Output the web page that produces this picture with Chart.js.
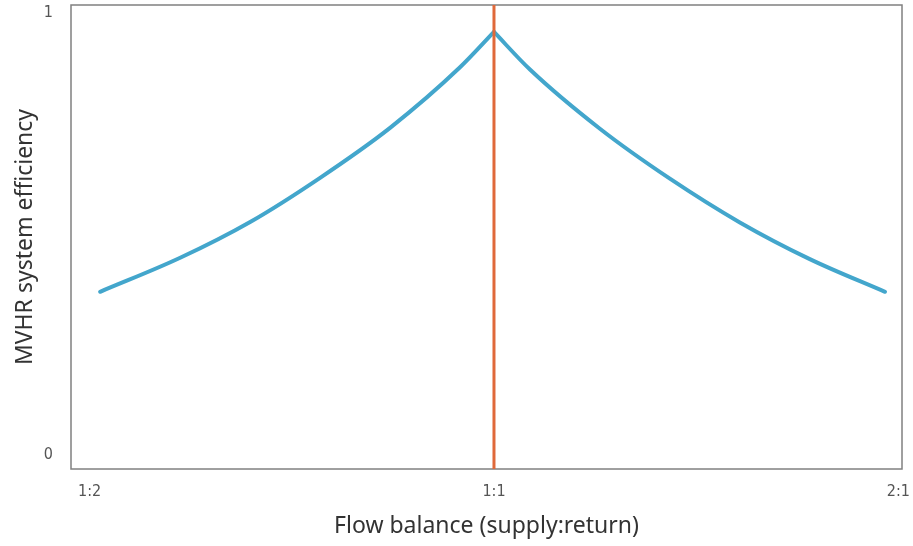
<!DOCTYPE html>
<html>
<head>
<meta charset="utf-8">
<script src="https://cdn.jsdelivr.net/npm/chart.js@4"></script>
<style>
  body { margin: 0; background: #fff; }
</style>
</head>
<body>
<canvas id="myChart" width="913" height="546"></canvas>
<script>
// flow balance as log2(supply/return): -1 = 1:2, 0 = 1:1, 1 = 2:1
const balance = [-0.974, -0.776, -0.603, -0.430, -0.257, -0.084, 0, 0.089, 0.262, 0.435, 0.608, 0.781, 0.967];
const efficiency = [0.369, 0.446, 0.527, 0.627, 0.740, 0.877, 0.957, 0.872, 0.738, 0.625, 0.526, 0.443, 0.369];
const peakIndex = 6;

const xTickValues = [-1, 0, 1];
const xTickLabels = ['1:2', '1:1', '2:1'];
const yTickValues = [0, 1];
const yTickLabels = ['0', '1'];

const balancedLine = [0];

const yMin = -0.032, yMax = 1.018;

const toPoints = (xs, ys) => xs.map((x, i) => ({ x: x, y: ys[i] }));
const leftBranch = toPoints(balance.slice(0, peakIndex + 1), efficiency.slice(0, peakIndex + 1));
const rightBranch = toPoints(balance.slice(peakIndex), efficiency.slice(peakIndex));

const blue = '#43a6cc';
const orange = '#e0693a';

const tickFont = { family: "'Liberation Sans Narrow', 'DejaVu Sans Condensed', sans-serif", size: 16 };
const titleFont = { family: "'Noto Sans', sans-serif", size: 23 };

const frame = {
    id: 'frame',
    beforeDatasetsDraw(chart) {
        const a = chart.chartArea;
        const c = chart.ctx;
        c.save();
        c.strokeStyle = '#808080';
        c.lineWidth = 1.5;
        c.strokeRect(a.left, a.top, a.right - a.left, a.bottom - a.top);
        c.restore();
    }
};

// keep the plot box fixed, tick label overhang shouldn't move it
const noOverhang = (scale) => {
    scale.paddingTop = 0;
    scale.paddingBottom = 0;
    scale.paddingLeft = 0;
    scale.paddingRight = 0;
};

const ctx = document.getElementById('myChart').getContext('2d');

const myChart = new Chart(ctx, {
    type: 'line',
    data: {
        datasets: [{
            label: '1:1',
            data: [{ x: balancedLine[0], y: yMin }, { x: balancedLine[0], y: yMax }],
            borderColor: orange,
            borderWidth: 3,
            pointRadius: 0
        }, {
            label: 'efficiency left',
            data: leftBranch,
            borderColor: blue,
            borderWidth: 4,
            borderCapStyle: 'round',
            cubicInterpolationMode: 'monotone',
            pointRadius: 0
        }, {
            label: 'efficiency right',
            data: rightBranch,
            borderColor: blue,
            borderWidth: 4,
            borderCapStyle: 'round',
            cubicInterpolationMode: 'monotone',
            pointRadius: 0
        }]
    },
    options: {
        responsive: false,
        animation: false,
        layout: { padding: { top: 5, right: 11, left: 10, bottom: 0 } },
        plugins: {
            legend: { display: false },
            tooltip: { enabled: false }
        },
        scales: {
            x: {
                type: 'linear',
                min: -1.046,
                max: 1.009,
                grid: { display: false },
                border: { display: false },
                afterBuildTicks: (scale) => { scale.ticks = xTickValues.map(v => ({ value: v })); },
                afterFit: (scale) => { scale.height = 77; noOverhang(scale); },
                ticks: {
                    autoSkip: false,
                    maxRotation: 0,
                    padding: 5,
                    color: '#555',
                    font: tickFont,
                    callback: (v) => xTickLabels[xTickValues.indexOf(v)]
                },
                title: {
                    display: true,
                    text: 'Flow balance (supply:return)',
                    color: '#333',
                    font: titleFont,
                    padding: { top: 0, bottom: 6 }
                }
            },
            y: {
                type: 'linear',
                min: yMin,
                max: yMax,
                grid: { display: false },
                border: { display: false },
                afterBuildTicks: (scale) => { scale.ticks = yTickValues.map(v => ({ value: v })); },
                afterFit: (scale) => { scale.width = 61; noOverhang(scale); },
                ticks: {
                    autoSkip: false,
                    padding: 10,
                    color: '#555',
                    font: tickFont,
                    callback: (v) => yTickLabels[yTickValues.indexOf(v)]
                },
                title: {
                    display: true,
                    text: 'MVHR system efficiency',
                    color: '#333',
                    font: titleFont,
                    padding: { top: 2, bottom: 4 }
                }
            }
        }
    },
    plugins: [frame]
});
</script>
</body>
</html>
